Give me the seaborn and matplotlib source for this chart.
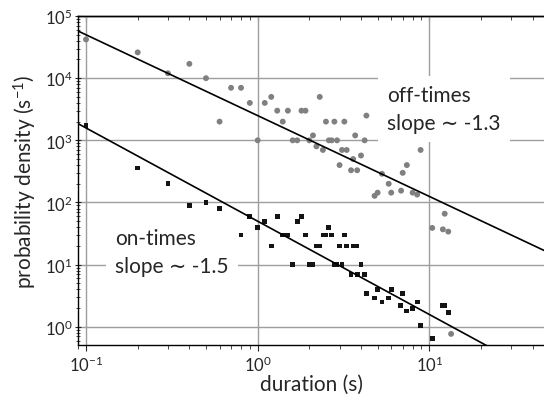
import numpy as np
import pandas as pd
import matplotlib
matplotlib.use('Agg')
import matplotlib.pyplot as plt
import matplotlib.ticker as mticker
import seaborn as sns

# off-times (grey circles)
off_x = [0.1, 0.2, 0.3, 0.4, 0.5, 0.6, 0.7, 0.8, 0.9, 1.0,
         1.1, 1.2, 1.3, 1.4, 1.5, 1.6, 1.7, 1.8, 1.9, 2.0,
         2.1, 2.2, 2.3, 2.4, 2.5, 2.6, 2.7, 2.8, 2.9, 3.0,
         3.1, 3.2, 3.3, 3.5, 3.6, 3.7, 3.8, 4.0, 4.2, 4.3,
         4.8, 5.0, 5.3, 5.8, 6.0, 6.85, 7.0, 7.4, 8.0, 8.5,
         8.9, 10.4, 12.0, 12.3, 12.9, 13.4]
off_y = [42000, 26000, 12000, 17000, 10000, 2000, 7000, 7000, 4000, 1000,
         4000, 5000, 3000, 2000, 3000, 1000, 1000, 3000, 3000, 1000,
         1200, 800, 5000, 700, 2000, 1000, 1000, 2000, 1000, 400,
         700, 2000, 700, 330, 500, 1200, 330, 570, 1000, 2500,
         128, 144, 290, 200, 144, 155, 300, 400, 144, 134,
         700, 39, 37, 66, 34, 0.77]

# on-times (black squares)
on_x = [0.1, 0.2, 0.3, 0.4, 0.5, 0.6, 0.7, 0.8, 0.9, 1.0,
        1.1, 1.2, 1.3, 1.4, 1.5, 1.6, 1.7, 1.8, 1.9, 2.0,
        2.1, 2.2, 2.3, 2.4, 2.5, 2.6, 2.7, 2.8, 2.9, 3.0,
        3.1, 3.2, 3.3, 3.5, 3.6, 3.75, 3.8, 4.0, 4.2, 4.3,
        4.8, 5.0, 5.3, 5.8, 6.0, 6.8, 7.0, 7.4, 8.0, 8.5,
        8.9, 10.4, 12.0, 12.3, 12.9]
on_y = [1750, 360, 200, 90, 100, 80, 30, 30, 60, 40,
        50, 20, 60, 30, 30, 10, 50, 60, 30, 10,
        10, 20, 20, 30, 30, 40, 30, 10, 10, 20,
        10, 30, 20, 7, 20, 20, 7, 10, 7, 3.4,
        2.9, 4.0, 2.5, 2.9, 4.0, 2.2, 3.4, 1.8, 2.0, 2.5,
        1.05, 0.65, 2.2, 2.2, 1.7]

# power-law fits: y = amp * x**slope
off_amp, off_slope = 2500, -1.3
on_amp, on_slope = 50, -1.5

sns.set_style('ticks', {'axes.edgecolor': '0.0'})
plt.rcParams['font.family'] = ['Lato', 'DejaVu Sans']
plt.rcParams['mathtext.default'] = 'regular'
plt.rcParams['axes.unicode_minus'] = False

fig = plt.figure(figsize=(5.44, 4.02), dpi=100)
ax = fig.add_axes([0.1434, 0.1393, 0.8566, 0.8184])

xmin, xmax = 0.0898, 46.6
xfit = np.array([xmin, xmax])

off = pd.DataFrame({'x': off_x, 'y': off_y})
on = pd.DataFrame({'x': on_x, 'y': on_y})

ax.set_xscale('log')
ax.set_yscale('log')
ax.grid(True, which='major', color='0.62', lw=1.0)
ax.set_axisbelow(True)

sns.scatterplot(data=off, x='x', y='y', ax=ax, color='0.5', marker='o',
                s=18, edgecolor='none', zorder=3)
sns.scatterplot(data=on, x='x', y='y', ax=ax, color='0.08', marker='s',
                s=12, edgecolor='none', zorder=3)
sns.lineplot(x=xfit, y=off_amp * xfit ** off_slope, ax=ax, color='k',
             lw=1.2, zorder=4)
sns.lineplot(x=xfit, y=on_amp * xfit ** on_slope, ax=ax, color='k',
             lw=1.2, zorder=4)

ax.set_xlim(xmin, xmax)
ax.set_ylim(0.51, 1e5)

ax.yaxis.set_major_locator(mticker.LogLocator(base=10, numticks=10))
ax.xaxis.set_minor_locator(mticker.LogLocator(base=10, subs=np.arange(2, 10), numticks=20))
ax.yaxis.set_minor_locator(mticker.LogLocator(base=10, subs=np.arange(2, 10), numticks=20))
ax.yaxis.set_minor_formatter(mticker.NullFormatter())
ax.xaxis.set_minor_formatter(mticker.NullFormatter())

ax.tick_params(axis='both', which='major', labelsize=12, length=4, width=0.8)
ax.tick_params(axis='both', which='minor', length=3, width=0.6)
ax.tick_params(axis='x', which='both', direction='out', pad=3)
ax.tick_params(axis='y', which='both', direction='inout', pad=2)

top = ax.secondary_xaxis('top')
top.set_xscale('log')
top.xaxis.set_minor_locator(mticker.LogLocator(base=10, subs=np.arange(2, 10), numticks=20))
top.tick_params(axis='x', which='both', direction='in', labeltop=False)
top.tick_params(axis='x', which='major', length=4, width=0.8)
top.tick_params(axis='x', which='minor', length=3, width=0.6)
top.xaxis.set_minor_formatter(mticker.NullFormatter())
top.xaxis.set_major_formatter(mticker.NullFormatter())

ax.spines['right'].set_visible(False)
for sp in ['left', 'bottom', 'top']:
    ax.spines[sp].set_linewidth(1.0)
top.spines['top'].set_linewidth(1.0)

ax.set_xlabel('duration (s)', fontsize=15, labelpad=0)
ax.set_ylabel('probability density (s$^{-1}$)', fontsize=15, labelpad=4)

box = dict(facecolor='white', edgecolor='none', boxstyle='square,pad=0.45')
ax.text(5.7, 3200, 'off-times\nslope \u223c -1.3', fontsize=15,
        ha='left', va='center', linespacing=1.45, bbox=box, zorder=5)
ax.text(0.148, 16, 'on-times\nslope \u223c -1.5', fontsize=15,
        ha='left', va='center', linespacing=1.45, bbox=box, zorder=5)

fig.savefig('out.png', dpi=100)
